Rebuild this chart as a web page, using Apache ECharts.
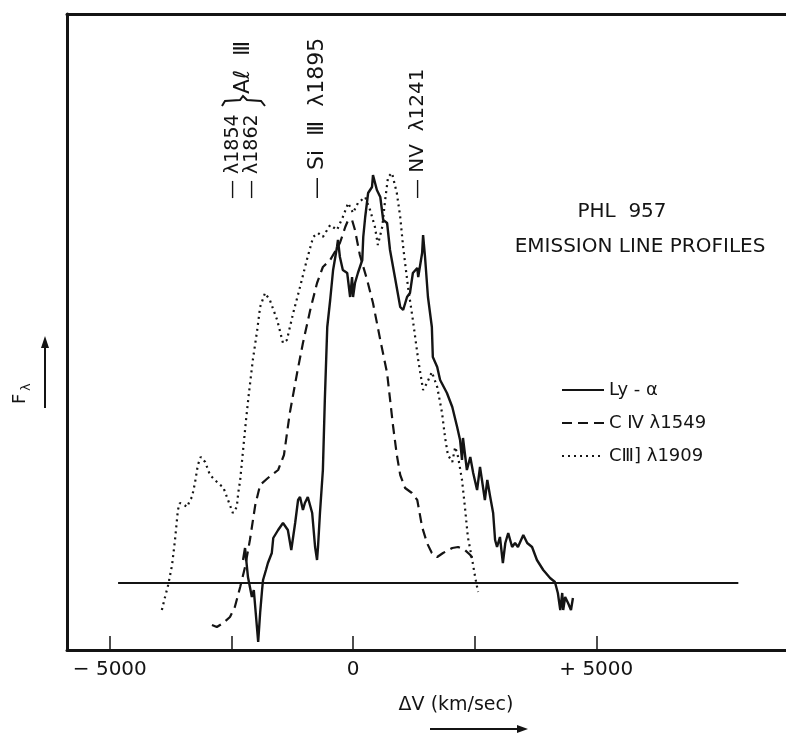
<!DOCTYPE html>
<html>
<head>
<meta charset="utf-8">
<title>PHL 957 Emission Line Profiles</title>
<script src="https://cdn.jsdelivr.net/npm/echarts@6/dist/echarts.min.js"></script>
<style>
    html, body { margin: 0; padding: 0; background: #fff; }
    #chart { width: 786px; height: 733px; }
</style>
</head>
<body>
<div id="chart"></div>
<script>
    // [velocity km/s, relative flux]
    const lyaProfile = [
        [-2260, 0.23], [-2220, 0.35], [-2160, 0.06], [-2080, -0.14], [-2040, -0.07], [-1950, -0.59],
        [-1910, -0.30], [-1870, -0.07], [-1850, 0.03], [-1790, 0.13], [-1750, 0.20], [-1670, 0.30],
        [-1640, 0.45], [-1540, 0.53], [-1440, 0.60], [-1340, 0.53], [-1270, 0.33], [-1190, 0.60],
        [-1130, 0.83], [-1090, 0.86], [-1030, 0.73], [-990, 0.80], [-930, 0.86], [-840, 0.70],
        [-780, 0.36], [-740, 0.23], [-720, 0.36], [-680, 0.70], [-620, 1.13], [-580, 1.83],
        [-530, 2.56], [-470, 2.83], [-410, 3.13], [-330, 3.36], [-310, 3.43], [-270, 3.26],
        [-210, 3.13], [-120, 3.10], [-60, 2.86], [-20, 3.06], [0, 2.86], [40, 3.00], [100, 3.10],
        [190, 3.23], [210, 3.46], [250, 3.66], [310, 3.90], [390, 3.96], [410, 4.08], [450, 4.10],
        [490, 3.93], [560, 3.86], [620, 3.63], [700, 3.60], [760, 3.33], [860, 3.06], [970, 2.76],
        [1030, 2.73], [1110, 2.86], [1170, 2.90], [1230, 3.10], [1320, 3.15], [1340, 3.06],
        [1420, 3.30], [1440, 3.48], [1480, 3.26], [1540, 2.86], [1620, 2.56], [1640, 2.26],
        [1730, 2.16], [1790, 2.03], [1930, 1.90], [2040, 1.76], [2140, 1.56], [2200, 1.43],
        [2240, 1.23], [2260, 1.45], [2340, 1.13], [2410, 1.26], [2470, 1.10], [2550, 0.93],
        [2610, 1.16], [2650, 1.03], [2710, 0.83], [2760, 1.03], [2820, 0.86], [2880, 0.70],
        [2920, 0.43], [2960, 0.36], [3020, 0.46], [3080, 0.20], [3130, 0.40], [3190, 0.50],
        [3270, 0.36], [3330, 0.40], [3390, 0.36], [3500, 0.48], [3580, 0.40], [3680, 0.36],
        [3780, 0.23], [3910, 0.13], [4050, 0.05], [4150, 0.01], [4210, -0.10], [4260, -0.27],
        [4300, -0.10], [4320, -0.27], [4360, -0.14], [4420, -0.20], [4480, -0.27], [4520, -0.15]
    ];
    const civProfile = [
        [-2900, -0.42], [-2800, -0.44], [-2670, -0.40], [-2530, -0.34], [-2430, -0.24], [-2320, -0.04],
        [-2220, 0.16], [-2120, 0.43], [-2010, 0.78], [-1910, 0.98], [-1750, 1.05], [-1540, 1.13],
        [-1420, 1.28], [-1300, 1.70], [-1150, 2.10], [-1030, 2.40], [-880, 2.73], [-740, 3.00],
        [-620, 3.16], [-470, 3.23], [-350, 3.33], [-270, 3.40], [-160, 3.56], [-100, 3.63],
        [-20, 3.63], [40, 3.53], [140, 3.28], [290, 3.03], [410, 2.80], [560, 2.43], [700, 2.10],
        [820, 1.58], [900, 1.28], [970, 1.08], [1070, 0.95], [1210, 0.90], [1320, 0.83],
        [1420, 0.56], [1520, 0.40], [1620, 0.30], [1730, 0.26], [1850, 0.30], [2040, 0.35],
        [2160, 0.36], [2300, 0.33], [2410, 0.28], [2510, 0.21]
    ];
    const ciiiProfile = [
        [-3930, -0.27], [-3870, -0.15], [-3800, -0.02], [-3720, 0.18], [-3660, 0.43], [-3600, 0.73],
        [-3560, 0.80], [-3470, 0.78], [-3410, 0.76], [-3350, 0.83], [-3310, 0.86], [-3250, 1.00],
        [-3190, 1.18], [-3130, 1.26], [-3040, 1.21], [-2940, 1.08], [-2840, 1.03], [-2730, 0.98],
        [-2670, 0.96], [-2570, 0.83], [-2470, 0.70], [-2390, 0.76], [-2360, 0.90], [-2320, 1.03],
        [-2260, 1.33], [-2200, 1.63], [-2140, 1.90], [-2060, 2.23], [-1970, 2.53], [-1910, 2.76],
        [-1810, 2.90], [-1710, 2.83], [-1560, 2.63], [-1440, 2.40], [-1360, 2.43], [-1230, 2.70],
        [-1090, 2.96], [-950, 3.23], [-820, 3.46], [-720, 3.50], [-620, 3.46], [-470, 3.58],
        [-330, 3.53], [-210, 3.66], [-100, 3.80], [0, 3.70], [100, 3.80], [250, 3.86], [350, 3.73],
        [450, 3.56], [510, 3.38], [600, 3.56], [660, 3.83], [720, 4.06], [800, 4.10], [900, 3.90],
        [970, 3.66], [1030, 3.36], [1130, 2.96], [1230, 2.63], [1340, 2.23], [1440, 1.93],
        [1520, 2.00], [1620, 2.11], [1730, 1.96], [1830, 1.70], [1890, 1.46], [1950, 1.28],
        [2040, 1.21], [2100, 1.36], [2160, 1.26], [2240, 1.03], [2300, 0.76], [2360, 0.46],
        [2450, 0.23], [2510, 0.06], [2570, -0.09]
    ];
    // continuum level drawn across the plot
    const continuumV = [-4830, 7920];
    const continuumF = [0, 0];

    const tickValues = [-5000, -2500, 0, 2500, 5000];
    const labelValues = [-5000, 0, 5000];
    const seriesNames = ['Ly - α', 'C Ⅳ λ1549', 'CⅢ] λ1909'];

    const FONT = '"DejaVu Sans", sans-serif';
    const INK = '#141414';

    let chart = echarts.init(document.getElementById('chart'), null, { renderer: 'canvas' });

    function rotatedText(text, x, y, size) {
        return {
            type: 'text',
            x: x,
            y: y,
            rotation: Math.PI / 2,
            style: {
                text: text,
                font: size + 'px ' + FONT,
                fill: INK,
                textAlign: 'left',
                textVerticalAlign: 'middle'
            }
        };
    }

    let option = {
        animation: false,
        backgroundColor: '#fff',
        grid: { left: 67, right: 0, top: 14, bottom: 83, outerBoundsMode: 'none' },
        legend: {
            data: seriesNames,
            orient: 'vertical',
            left: 556,
            top: 376,
            itemWidth: 42,
            itemHeight: 12,
            itemGap: 15,
            itemStyle: { color: 'rgba(0,0,0,0)', borderWidth: 0, opacity: 0 },
            textStyle: { color: INK, fontSize: 18, fontFamily: FONT }
        },
        xAxis: [
            {
                type: 'value',
                min: -5880,
                max: 8900,
                position: 'bottom',
                axisLine: { show: true, onZero: false, lineStyle: { color: INK, width: 3 } },
                axisTick: { show: true, inside: true, length: 14, customValues: tickValues, lineStyle: { color: INK, width: 1.5 } },
                axisLabel: {
                    customValues: labelValues,
                    margin: 10,
                    color: INK,
                    fontSize: 20,
                    fontFamily: FONT,
                    formatter: v => v > 0 ? '+ ' + v : (v < 0 ? '− ' + Math.abs(v) : '0')
                },
                splitLine: { show: false }
            },
            {
                type: 'value',
                min: -5880,
                max: 8900,
                position: 'top',
                axisLine: { show: true, onZero: false, lineStyle: { color: INK, width: 3 } },
                axisTick: { show: false },
                axisLabel: { show: false },
                splitLine: { show: false }
            }
        ],
        yAxis: {
            type: 'value',
            min: -0.67,
            max: 5.69,
            axisLine: { show: true, onZero: false, lineStyle: { color: INK, width: 3 } },
            axisTick: { show: false },
            axisLabel: { show: false },
            splitLine: { show: false }
        },
        series: [
            {
                name: seriesNames[0],
                type: 'line',
                data: lyaProfile,
                symbol: 'none',
                lineStyle: { color: INK, width: 2.4, type: 'solid' },
                itemStyle: { color: INK }
            },
            {
                name: seriesNames[1],
                type: 'line',
                data: civProfile,
                symbol: 'none',
                lineStyle: { color: INK, width: 2.2, type: [10, 6] },
                itemStyle: { color: INK }
            },
            {
                name: seriesNames[2],
                type: 'line',
                data: ciiiProfile,
                symbol: 'none',
                lineStyle: { color: INK, width: 2.2, type: [2, 4] },
                itemStyle: { color: INK }
            },
            {
                name: 'continuum',
                type: 'line',
                data: continuumV.map((v, i) => [v, continuumF[i]]),
                symbol: 'none',
                silent: true,
                lineStyle: { color: INK, width: 2 }
            }
        ],
        graphic: [
            // line identifications
            rotatedText('— λ1854', 233, 199, 19),
            rotatedText('— λ1862', 252, 199, 19),
            {
                type: 'polyline',
                shape: { points: [[222, 106], [225, 101], [240, 100], [243, 96], [247, 100], [261, 101], [265, 106]] },
                style: { stroke: INK, lineWidth: 2, fill: null }
            },
            rotatedText('Aℓ  Ⅲ', 243, 94, 22),
            rotatedText('— Si  Ⅲ  λ1895', 317, 199, 22),
            rotatedText('— NⅤ  λ1241', 418, 199, 20),
            // title block
            {
                type: 'text', x: 622, y: 212,
                style: { text: 'PHL  957', font: '20px ' + FONT, fill: INK, textAlign: 'center', textVerticalAlign: 'middle' }
            },
            {
                type: 'text', x: 640, y: 247,
                style: { text: 'EMISSION LINE PROFILES', font: '20px ' + FONT, fill: INK, textAlign: 'center', textVerticalAlign: 'middle' }
            },
            // y label F_lambda with arrow
            rotatedText('F', 20, 404, 18),
            rotatedText('λ', 27, 391, 13),
            {
                type: 'line',
                shape: { x1: 45, y1: 408, x2: 45, y2: 345 },
                style: { stroke: INK, lineWidth: 2 }
            },
            {
                type: 'polygon',
                shape: { points: [[41, 348], [45, 336], [49, 348]] },
                style: { fill: INK }
            },
            // x label with arrow
            {
                type: 'text', x: 456, y: 705,
                style: { text: 'ΔV (km/sec)', font: '19px ' + FONT, fill: INK, textAlign: 'center', textVerticalAlign: 'middle' }
            },
            {
                type: 'line',
                shape: { x1: 430, y1: 729, x2: 520, y2: 729 },
                style: { stroke: INK, lineWidth: 2 }
            },
            {
                type: 'polygon',
                shape: { points: [[517, 725], [528, 729], [517, 733]] },
                style: { fill: INK }
            }
        ]
    };

    chart.setOption(option);
</script>
</body>
</html>
